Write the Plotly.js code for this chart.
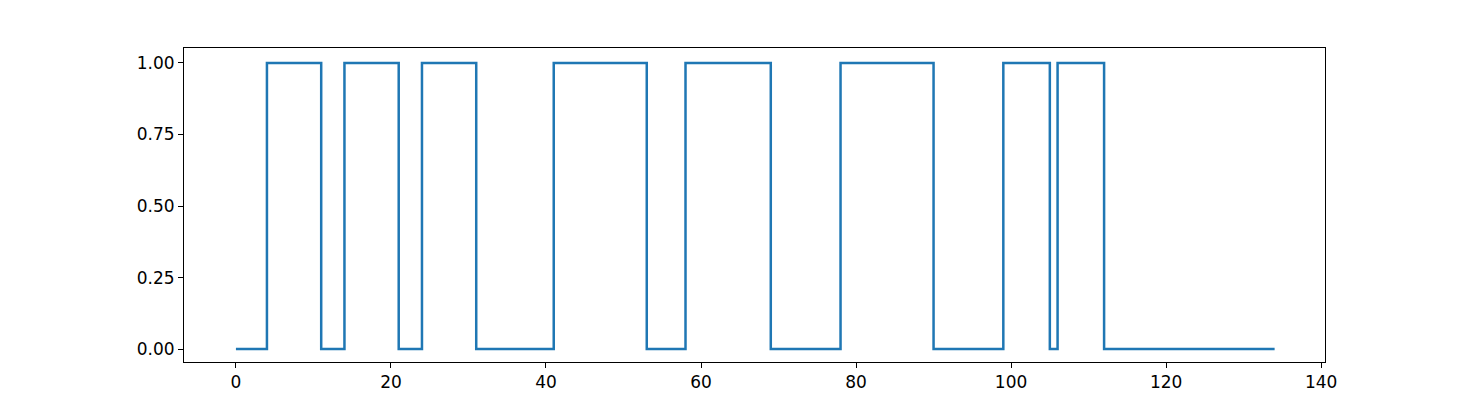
<!DOCTYPE html>
<html>
<head>
<script src="https://cdn.plot.ly/plotly-3.0.1.min.js"></script>
<style>body{margin:0;background:#fff}</style>
</head>
<body>
<div id="chart" style="width:1472px;height:408px"></div>
<script>
// change points of the step signal
const stepX = [0, 4, 11, 14, 21, 24, 31, 41, 53, 58, 69, 78, 90, 99, 105, 106, 112, 134];
const stepY = [0, 1, 0, 1, 0, 1, 0, 1, 0, 1, 0, 1, 0, 1, 0, 1, 0, 0];
const yTicks = [0, 0.25, 0.5, 0.75, 1];

const axisStyle = {
    showgrid: false, zeroline: false, showline: true, mirror: true,
    linecolor: '#000', linewidth: 1, ticks: 'outside', ticklen: 5,
    tickcolor: '#000', tickfont: { size: 17, color: '#000' }
};

const trace = {
    x: stepX, y: stepY, type: 'scatter', mode: 'lines',
    line: { color: '#1f77b4', width: 2.5, shape: 'hv' }
};

const layout = {
    width: 1472, height: 408,
    paper_bgcolor: '#fff', plot_bgcolor: '#fff',
    font: { family: 'DejaVu Sans' },
    margin: { l: 184, r: 147, t: 48, b: 46 },
    showlegend: false,
    xaxis: Object.assign({}, axisStyle, { range: [-6.7, 140.5], tickvals: [0, 20, 40, 60, 80, 100, 120, 140] }),
    yaxis: Object.assign({}, axisStyle, { range: [-0.045, 1.052], tickvals: yTicks, ticktext: yTicks.map(v => v.toFixed(2)) })
};

Plotly.newPlot('chart', [trace], layout, { staticPlot: true });
</script>
</body>
</html>
